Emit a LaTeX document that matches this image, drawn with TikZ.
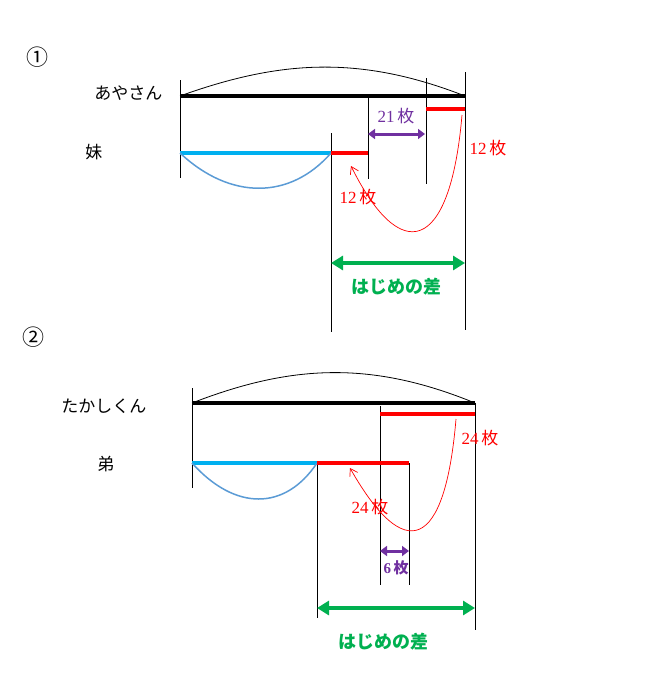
\documentclass[tikz,border=0pt]{standalone}
\usepackage{fontspec}
\setmainfont{Liberation Serif}
\newfontfamily\jp{Noto Sans CJK JP}
\usetikzlibrary{arrows.meta}
\definecolor{barblue}{RGB}{0,176,240}
\definecolor{curveblue}{RGB}{91,155,213}
\definecolor{diffgreen}{RGB}{0,176,80}
\definecolor{numpurple}{RGB}{112,48,160}
\begin{document}
\begin{tikzpicture}[x=1pt, y=-1pt, font=\fontsize{17}{19}\selectfont]
  \tikzset{
    bar/.style = {line width=4pt},
    guide/.style = {line width=0.8pt},
    brace/.style = {line width=0.8pt},
    numlabel/.style = {text=red, inner sep=1pt},
    diffarrow/.style = {diffgreen, line width=4pt, {Triangle[length=12pt,width=14pt]}-{Triangle[length=12pt,width=14pt]}},
    gaparrow/.style = {numpurple, line width=3pt, {Triangle[length=7pt,width=10pt]}-{Triangle[length=7pt,width=10pt]}},
    movearrow/.style = {red, line width=0.7pt, -{Straight Barb[length=7pt,width=9pt]}},
    difflabel/.style = {text=diffgreen, font=\fontsize{18}{20}\selectfont\jp\bfseries}
  }
  \useasboundingbox (0,0) rectangle (646,696);

  % (1)
  \node (num1) at (37,57) {\jp\fontsize{22}{24}\selectfont ①};
  \node[anchor=east] (ayasan) at (166,93) {\jp あやさん};
  \node[anchor=east] (imouto) at (106,152) {\jp 妹};
  \coordinate (a0) at (180,96);  \coordinate (a1) at (465,96);
  \coordinate (b0) at (180,153); \coordinate (b1) at (331,153); \coordinate (b2) at (368,153);
  \coordinate (c0) at (426,109); \coordinate (c1) at (465,109);
  \draw[guide] (180,80) -- (180,178);
  \draw[guide] (331,133) -- (331,332);
  \draw[guide] (368,97) -- (368,179);
  \draw[guide] (426,78) -- (426,184);
  \draw[guide] (465,72) -- (465,330);
  \draw[brace] (a0) .. controls (280,60) and (360,55) .. (a1);
  \draw[bar] (a0) -- (a1);
  \draw[bar, barblue] (b0) -- (b1);
  \draw[brace, curveblue, line width=1.5pt] (b0) .. controls (230,200) and (290,200) .. (b1);
  \draw[bar, red] (b1) -- (b2);
  \draw[bar, red] (c0) -- (c1);
  \coordinate (g0) at (368,134); \coordinate (g1) at (425,134);
  \draw[gaparrow] (g0) -- (g1);
  \node[text=numpurple] (gap21) at (396,116) {21\,{\jp 枚}};
  \node[numlabel] (give12) at (488,148) {12\,{\jp 枚}};
  \node[numlabel] (get12) at (358,197) {12\,{\jp 枚}};
  \coordinate (m0) at (462,115); \coordinate (m1) at (351,166);
  \draw[movearrow] (m0) .. controls (450,255) and (400,265) .. (m1);
  \coordinate (d0) at (331,263); \coordinate (d1) at (465,263);
  \draw[diffarrow] (d0) -- (d1);
  \node[difflabel] (diff1) at (396,287) {はじめの差};

  % (2)
  \node (num2) at (33,337) {\jp\fontsize{22}{24}\selectfont ②};
  \node[anchor=east] (takashi) at (150,406) {\jp たかしくん};
  \node[anchor=east] (otouto) at (118,464) {\jp 弟};
  \coordinate (e0) at (192,403); \coordinate (e1) at (475,403);
  \coordinate (f0) at (192,463); \coordinate (f1) at (317,463); \coordinate (f2) at (409,463);
  \coordinate (h0) at (380,414); \coordinate (h1) at (475,414);
  \draw[guide] (192,388) -- (192,488);
  \draw[guide] (317,463) -- (317,618);
  \draw[guide] (380,406) -- (380,585);
  \draw[guide] (409,463) -- (409,585);
  \draw[guide] (475,403) -- (475,630);
  \draw[brace] (e0) .. controls (290,365) and (370,360) .. (e1);
  \draw[bar] (e0) -- (e1);
  \draw[bar, barblue] (f0) -- (f1);
  \draw[brace, curveblue, line width=1.5pt] (f0) .. controls (235,511) and (285,511) .. (f1);
  \draw[bar, red] (f1) -- (f2);
  \draw[bar, red] (h0) -- (h1);
  \node[numlabel] (give24) at (480,438) {24\,{\jp 枚}};
  \node[numlabel] (get24) at (370,507) {24\,{\jp 枚}};
  \coordinate (n0) at (456,419); \coordinate (n1) at (350,468);
  \draw[movearrow] (n0) .. controls (445,550) and (405,565) .. (n1);
  \coordinate (k0) at (380,551); \coordinate (k1) at (409,551);
  \draw[gaparrow] (k0) -- (k1);
  \node[text=numpurple, font=\fontsize{15}{17}\selectfont\bfseries] (gap6) at (396,568) {6\,{\jp 枚}};
  \coordinate (p0) at (317,608); \coordinate (p1) at (475,608);
  \draw[diffarrow] (p0) -- (p1);
  \node[difflabel] (diff2) at (383,642) {はじめの差};
\end{tikzpicture}
\end{document}
